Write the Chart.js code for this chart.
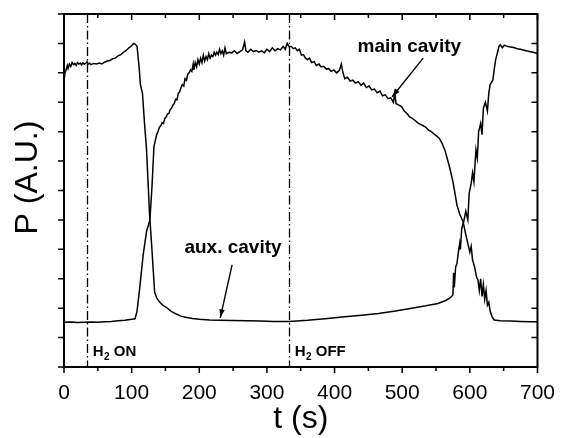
<!DOCTYPE html>
<html>
<head>
<meta charset="utf-8">
<script src="https://cdn.jsdelivr.net/npm/chart.js@4.4.0/dist/chart.umd.min.js"></script>
<style>
  html, body { margin: 0; padding: 0; background: #fff; }
  #wrap { width: 561px; height: 438px; }
</style>
</head>
<body>
<div id="wrap"><canvas id="powerChart" width="561" height="438"></canvas></div>
<script>
// main cavity: low before the switch, high between 130 s and 570 s
const tMain = [0, 10, 20, 30, 40, 50, 60, 70, 80, 90, 100, 105, 108, 112, 117, 122, 127, 130, 133, 135,
    137, 139, 141, 143, 145, 147, 149, 151, 153, 155, 157, 159, 161, 163, 165, 167, 169, 171, 173, 175,
    177, 179, 181, 183, 185, 187, 189, 191, 192, 194, 196, 198, 200, 202, 204, 206, 208, 210, 212, 214,
    216, 218, 220, 222, 224, 226, 228, 230, 232, 234, 236, 238, 240, 244, 248, 252, 256, 260, 264, 267,
    269, 272, 276, 280, 284, 288, 292, 296, 300, 304, 308, 312, 316, 320, 324, 327, 330, 333, 336, 339,
    342, 345, 348, 351, 354, 357, 360, 363, 366, 370, 373, 377, 380, 384, 388, 391, 395, 399, 403, 407,
    410, 412, 415, 419, 423, 427, 431, 435, 439, 443, 447, 451, 455, 459, 463, 467, 471, 475, 479, 483,
    487, 489, 491, 495, 499, 503, 507, 511, 515, 519, 523, 527, 531, 535, 539, 543, 547, 551, 555, 559,
    563, 567, 570, 575, 578, 581, 585, 590, 594, 597, 600, 602, 604, 607, 610, 612, 614, 616, 618, 620,
    622, 624, 626, 628, 630, 633, 636, 645, 660, 675, 690, 700];
const pMain = [1.52, 1.53, 1.51, 1.52, 1.53, 1.52, 1.54, 1.55, 1.57, 1.59, 1.62, 1.64, 1.9, 2.7, 3.8, 4.6, 5.0, 6.1, 7.5, 7.7,
    7.9, 8.0, 8.15, 8.2, 8.3, 8.28, 8.45, 8.5, 8.6, 8.62, 8.75, 8.8, 8.9, 8.96, 9.1, 9.08, 9.3, 9.35, 9.5, 9.6,
    9.55, 9.8, 9.75, 9.95, 10.0, 10.1, 10.05, 10.3, 10.1, 10.35, 10.2, 10.45, 10.3, 10.5, 10.35, 10.6, 10.4, 10.55, 10.45, 10.65,
    10.5, 10.6, 10.55, 10.7, 10.6, 10.7, 10.62, 10.8, 10.65, 10.75, 10.6, 10.85, 10.65, 10.7, 10.68, 10.75, 10.66, 10.72, 10.78, 11.05,
    10.75, 10.7, 10.8, 10.72, 10.76, 10.7, 10.75, 10.68, 10.8, 10.72, 10.85, 10.75, 10.82, 10.78, 10.9, 10.8, 11.0, 10.88, 10.9, 10.82,
    10.85, 10.75, 10.8, 10.6, 10.62, 10.5, 10.45, 10.5, 10.35, 10.38, 10.25, 10.3, 10.2, 10.22, 10.12, 10.15, 10.05, 10.1, 10.0, 10.08,
    10.3, 10.05, 9.8, 9.85, 9.72, 9.75, 9.65, 9.7, 9.58, 9.65, 9.5, 9.55, 9.42, 9.45, 9.32, 9.38, 9.22, 9.25, 9.12, 9.15,
    9.0, 9.3, 8.95, 8.9, 8.85, 8.7, 8.62, 8.5, 8.45, 8.38, 8.3, 8.25, 8.2, 8.15, 8.05, 8.0, 7.92, 7.85, 7.77, 7.6,
    7.38, 7.05, 6.8, 6.3, 5.9, 5.5, 5.2, 4.94, 4.5, 4.2, 3.9, 4.1, 3.64, 3.4, 3.05, 2.96, 2.6, 3.0, 2.4, 2.8,
    2.3, 2.6, 2.1, 2.2, 1.9, 1.7, 1.6, 1.57, 1.56, 1.55, 1.54, 1.54];

// aux. cavity: high before the switch, low between 130 s and 570 s
const tAux = [0, 1, 3, 5, 6, 8, 10, 12, 14, 16, 18, 20, 22, 24, 26, 28, 30, 32, 34, 36,
    38, 40, 44, 48, 52, 56, 60, 64, 68, 72, 76, 80, 84, 88, 92, 96, 100, 103, 105, 108,
    111, 113, 116, 119, 122, 126.5, 130, 134, 137, 141, 146, 151, 158, 166, 173, 180, 190, 200, 215, 230,
    250, 270, 290, 310, 333, 360, 390, 415, 440, 465, 490, 514, 535, 553, 565, 572, 575, 576, 577, 579,
    581, 583, 585, 586, 588, 591, 594, 597, 599, 602, 604, 606, 609, 611, 613, 616, 618, 620, 623, 626,
    628, 630, 634, 636, 638, 641, 643, 645, 648, 651, 655, 660, 665, 670, 675, 680, 685, 690, 695, 700];
const pAux = [10.0, 9.95, 10.1, 10.25, 10.15, 10.3, 10.22, 10.35, 10.28, 10.32, 10.25, 10.35, 10.3, 10.33, 10.27, 10.34, 10.3, 10.32, 10.38, 10.3,
    10.33, 10.28, 10.32, 10.3, 10.33, 10.3, 10.36, 10.4, 10.42, 10.48, 10.5, 10.58, 10.62, 10.7, 10.76, 10.85, 10.92, 11.0, 10.98, 10.9,
    10.2, 9.6, 9.3, 8.3, 7.4, 5.2, 4.0, 2.55, 2.35, 2.22, 2.1, 2.03, 1.9, 1.8, 1.73, 1.69, 1.65, 1.62, 1.6, 1.59,
    1.58, 1.57, 1.56, 1.55, 1.55, 1.59, 1.65, 1.71, 1.76, 1.82, 1.9, 2.0, 2.08, 2.16, 2.27, 2.37, 2.45, 3.2, 2.7, 3.4,
    3.52, 3.9, 4.2, 4.0, 4.7, 4.94, 5.3, 5.0, 5.9, 6.24, 6.6, 6.3, 7.38, 7.1, 8.0, 8.28, 7.9, 8.8, 9.0, 8.7,
    9.3, 9.6, 9.75, 10.1, 10.43, 10.7, 10.89, 10.95, 10.85, 10.94, 10.9, 10.88, 10.86, 10.82, 10.8, 10.77, 10.74, 10.72, 10.69, 10.66];

const xTickLabels = [0, 100, 200, 300, 400, 500, 600, 700];
const h2On = 33.5;
const h2Off = 332;

const FONT = "'Liberation Sans', Arial, sans-serif";

function pairs(ts, ps) {
    return ts.map((t, i) => ({ x: t, y: ps[i] }));
}

// frame, inner ticks, H2 markers and labels
const decorations = {
    id: 'decorations',
    afterDraw(chart) {
        const { ctx, chartArea: a, scales: { x, y } } = chart;
        ctx.save();
        ctx.strokeStyle = '#000';
        ctx.fillStyle = '#000';

        // H2 ON / OFF lines
        ctx.lineWidth = 1.3;
        ctx.setLineDash([9, 3, 1.5, 3]);
        [h2On, h2Off].forEach(t => {
            const px = Math.round(x.getPixelForValue(t)) + 0.5;
            ctx.beginPath();
            ctx.moveTo(px, a.top);
            ctx.lineTo(px, a.bottom);
            ctx.stroke();
        });
        ctx.setLineDash([]);

        // frame
        ctx.lineWidth = 2;
        ctx.strokeRect(a.left, a.top, a.right - a.left, a.bottom - a.top);

        // x ticks: bottom outward, top inward
        ctx.lineWidth = 1.5;
        for (let v = 0; v <= 700; v += 50) {
            const px = x.getPixelForValue(v);
            const len = v % 100 === 0 ? 6 : 4;
            ctx.beginPath();
            ctx.moveTo(px, a.bottom); ctx.lineTo(px, a.bottom + len);
            ctx.moveTo(px, a.top); ctx.lineTo(px, a.top + len);
            ctx.stroke();
        }
        // y ticks: left outward, right inward
        for (let v = 0; v <= 12; v++) {
            const py = y.getPixelForValue(v);
            ctx.beginPath();
            ctx.moveTo(a.left - 6, py); ctx.lineTo(a.left, py);
            ctx.moveTo(a.right - 6, py); ctx.lineTo(a.right, py);
            ctx.stroke();
        }

        // H2 labels
        function h2Label(text, t) {
            let px = x.getPixelForValue(t);
            const py = y.getPixelForValue(0.37);
            ctx.font = 'bold 15px ' + FONT;
            ctx.textAlign = 'left';
            ctx.textBaseline = 'alphabetic';
            ctx.fillText('H', px, py);
            px += ctx.measureText('H').width + 0.5;
            ctx.font = 'bold 10px ' + FONT;
            ctx.fillText('2', px, py + 4);
            px += ctx.measureText('2').width;
            ctx.font = 'bold 15px ' + FONT;
            ctx.fillText(' ' + text, px, py);
        }
        h2Label('ON', h2On + 9);
        h2Label('OFF', h2Off + 9);

        // curve labels with arrows
        ctx.font = 'bold 19px ' + FONT;
        ctx.fillText('main cavity', x.getPixelForValue(434), y.getPixelForValue(10.71));
        ctx.fillText('aux. cavity', x.getPixelForValue(178), y.getPixelForValue(3.87));

        function arrow(t0, v0, t1, v1) {
            const x0 = x.getPixelForValue(t0), y0 = y.getPixelForValue(v0);
            const x1 = x.getPixelForValue(t1), y1 = y.getPixelForValue(v1);
            const ang = Math.atan2(y1 - y0, x1 - x0);
            ctx.lineWidth = 1.4;
            ctx.beginPath();
            ctx.moveTo(x0, y0); ctx.lineTo(x1, y1);
            ctx.stroke();
            ctx.beginPath();
            ctx.moveTo(x1, y1);
            ctx.lineTo(x1 - 9 * Math.cos(ang - 0.3), y1 - 9 * Math.sin(ang - 0.3));
            ctx.lineTo(x1 - 9 * Math.cos(ang + 0.3), y1 - 9 * Math.sin(ang + 0.3));
            ctx.closePath();
            ctx.fill();
        }
        arrow(531, 10.5, 485, 9.18);
        arrow(248.5, 3.47, 231, 1.67);

        // y axis title
        ctx.translate(28, (a.top + a.bottom) / 2 - 13);
        ctx.rotate(-Math.PI / 2);
        ctx.font = '32px ' + FONT;
        ctx.textAlign = 'center';
        ctx.textBaseline = 'middle';
        ctx.fillText('P (A.U.)', 0, 0);
        ctx.restore();
    }
};

new Chart(document.getElementById('powerChart'), {
    type: 'scatter',
    data: {
        datasets: [
            { label: 'main cavity', data: pairs(tMain, pMain) },
            { label: 'aux. cavity', data: pairs(tAux, pAux) }
        ]
    },
    options: {
        responsive: false,
        animation: false,
        showLine: true,
        layout: { padding: { top: 14, right: 21, left: 0, bottom: 0 } },
        elements: {
            line: { borderColor: '#000', borderWidth: 1.5, tension: 0 },
            point: { radius: 0, hoverRadius: 0 }
        },
        plugins: { legend: { display: false }, tooltip: { enabled: false } },
        scales: {
            x: {
                type: 'linear', min: 0, max: 700,
                afterFit: s => { s.height = 71; },
                afterBuildTicks: s => { s.ticks = xTickLabels.map(v => ({ value: v })); },
                grid: { display: false },
                border: { display: false },
                ticks: { color: '#000', padding: 6, font: { family: FONT, size: 21 } },
                title: { display: true, text: 't (s)', color: '#000', padding: 0, font: { family: FONT, size: 32 } }
            },
            y: {
                type: 'linear', min: 0, max: 12,
                afterFit: s => { s.width = 64; },
                grid: { display: false },
                border: { display: false },
                ticks: { display: false, stepSize: 1 }
            }
        }
    },
    plugins: [decorations]
});
</script>
</body>
</html>
